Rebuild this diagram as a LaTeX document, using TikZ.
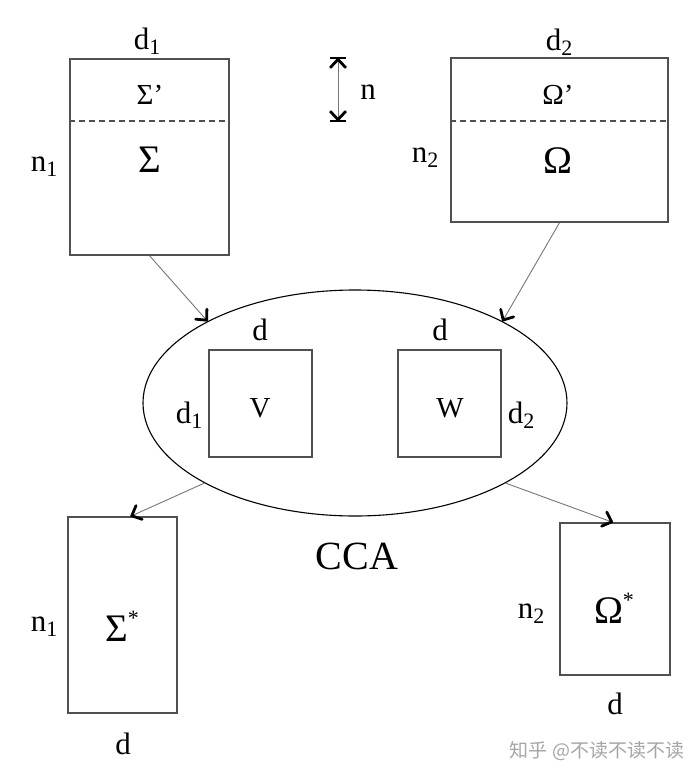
\documentclass[tikz,border=0pt]{standalone}
\usepackage{fontspec}
\setmainfont{Liberation Serif}
\newfontfamily\cjkfont{Noto Sans CJK SC}
\usetikzlibrary{shapes.geometric,arrows.meta}
\newcommand{\mysub}[1]{\raisebox{-0.35ex}{\fontsize{22}{24}\selectfont #1}}
\newcommand{\mysup}[1]{\raisebox{0.9ex}{\fontsize{22}{22}\selectfont #1}}
\definecolor{boxgray}{HTML}{505050}
\definecolor{arrgray}{HTML}{777777}
\tikzset{
  matbox/.style={draw=boxgray, line width=1.3pt, inner sep=0pt},
  lbl/.style={inner sep=0pt, font=\fontsize{31}{34}\selectfont},
  biglbl/.style={inner sep=0pt, font=\fontsize{39}{40}\selectfont},
  midlbl/.style={inner sep=0pt, font=\fontsize{29}{30}\selectfont},
  tip/.tip={Straight Barb[length=8pt,width=15pt,line width=2.8pt,color=black,round]},
  flow/.style={draw=arrgray, line width=0.9pt, -tip},
  dimarrow/.style={draw=arrgray, line width=0.9pt, tip-tip},
  sep/.style={draw=boxgray, line width=1.5pt, dash pattern=on 6pt off 4pt}
}
\begin{document}
\begin{tikzpicture}[x=1pt,y=-1pt]
\useasboundingbox (0,0) rectangle (700,782);
\fill[white] (0,0) rectangle (700,782);
% top-left matrix
\node[matbox, minimum width=159pt, minimum height=196pt] (sig) at (149.5,157) {};
\draw[sep] (sig.west |- 0,121) coordinate (sd1) -- (sig.east |- 0,121) coordinate (sd2);
\node[midlbl] (sigp) at (150,95) {Σ’};
\node[biglbl] (sigl) at (150,160) {Σ};
\node[lbl] (d1a) at (147,41) {d\mysub{1}};
\node[lbl] (n1a) at (44,167) {n\mysub{1}};
% top-right matrix
\node[matbox, minimum width=217pt, minimum height=164pt] (om) at (559.5,140) {};
\draw[sep] (om.west |- 0,121) coordinate (od1) -- (om.east |- 0,121) coordinate (od2);
\node[midlbl] (omp) at (558,95) {Ω’};
\node[biglbl] (oml) at (558,161) {Ω};
\node[lbl] (d2a) at (559,42) {d\mysub{2}};
\node[lbl] (n2a) at (425,158) {n\mysub{2}};
% n dimension
\coordinate (na) at (338,58);
\coordinate (nb) at (338,121);
\draw[dimarrow] (na) -- (nb);
\draw[line width=1.6pt] ([xshift=-8pt]na) -- ([xshift=8pt]na);
\draw[line width=1.6pt] ([xshift=-8pt]nb) -- ([xshift=8pt]nb);
\node[lbl] (nl) at (368,92) {n};
% CCA ellipse
\node[draw=black, line width=1.1pt, ellipse, inner sep=0pt, minimum width=424pt, minimum height=226pt] (ell) at (355,403) {};
\node[matbox, minimum width=103pt, minimum height=107pt] (V) at (260.5,403.5) {};
\node[matbox, minimum width=103pt, minimum height=107pt] (W) at (449.5,403.5) {};
\node[midlbl] (Vl) at (260,408) {V};
\node[midlbl] (Wl) at (450,408) {W};
\node[lbl] (dV) at (260,330) {d};
\node[lbl] (dW) at (440,330) {d};
\node[lbl] (d1b) at (189,415) {d\mysub{1}};
\node[lbl] (d2b) at (521,415) {d\mysub{2}};
\node[inner sep=0pt, font=\fontsize{40}{42}\selectfont] (cca) at (357,556) {CCA};
% bottom matrices
\node[matbox, minimum width=109pt, minimum height=196pt] (sigs) at (122.5,615) {};
\node[biglbl] (sigsl) at (122,626) {Σ\mysup{*}};
\node[lbl] (n1c) at (44,627) {n\mysub{1}};
\node[lbl] (dS) at (123,744) {d};
\node[matbox, minimum width=110pt, minimum height=152pt] (oms) at (615,599) {};
\node[biglbl] (omsl) at (614,608) {Ω\mysup{*}};
\node[lbl] (n2c) at (531,614) {n\mysub{2}};
\node[lbl] (dO) at (615,704) {d};
% connectors
\draw[flow] (sig.south) -- (ell.151);
\draw[flow] (om.south) -- (ell.29);
\draw[flow] (ell.208) -- ([xshift=8pt]sigs.north);
\draw[flow] (ell.332) -- ([xshift=-2pt]oms.north);
% watermark
\node[inner sep=0pt, text=black!35, font=\cjkfont\fontsize{19}{20}\selectfont] (wm) at (597,751) {知乎 @不读不读不读};
\end{tikzpicture}
\end{document}
